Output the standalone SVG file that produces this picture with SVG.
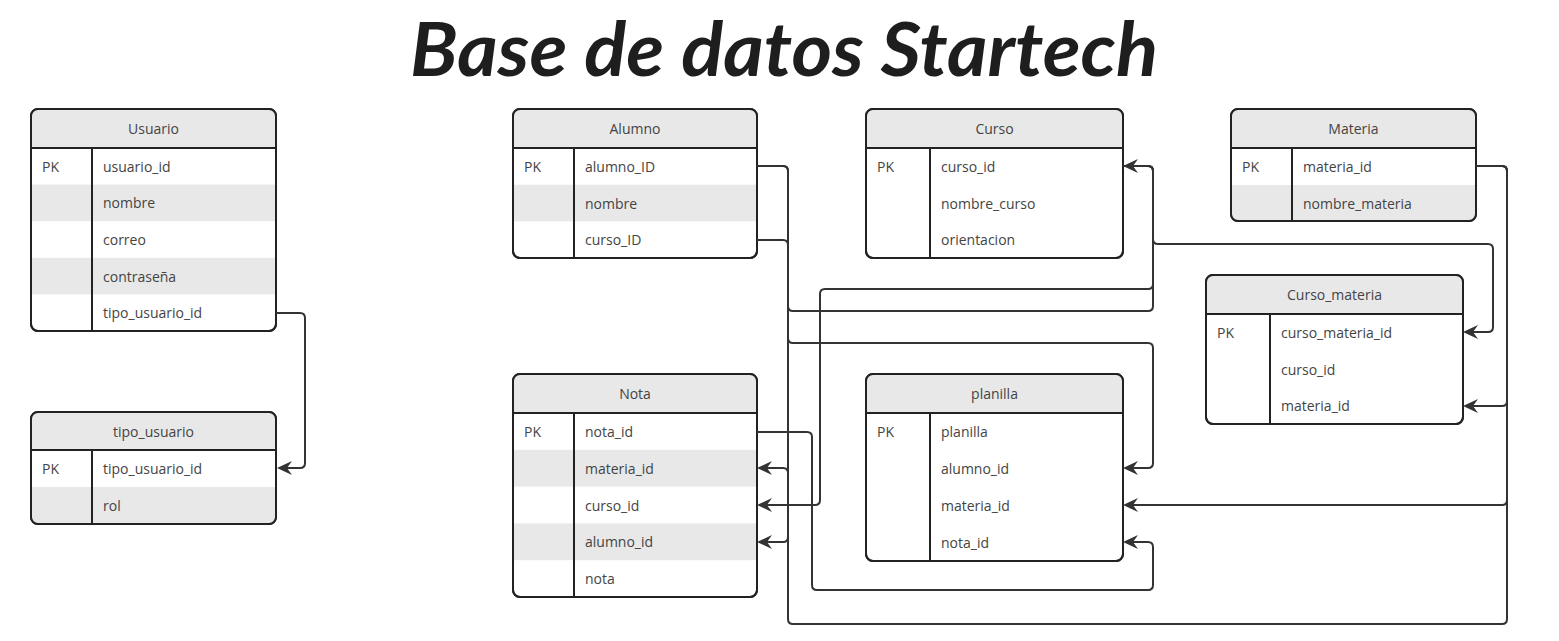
<svg xmlns="http://www.w3.org/2000/svg" width="1559" height="641" viewBox="0 0 1559 641">
<style>
.card{fill:#fff;stroke:#222;stroke-width:2}
.outline{fill:none;stroke:#222;stroke-width:2}
.sep{stroke:#222;stroke-width:2}
.div{stroke:#222;stroke-width:2}
.hdr{fill:#e8e8e8}
.stripe{fill:#e8e8e8}
.t{font-family:"Open Sans","Noto Sans",sans-serif;font-size:14px;fill:#444;dominant-baseline:central}
.h{text-anchor:middle}
.conn path{fill:none;stroke:#333;stroke-width:2}
.title{font-family:"Lato","Noto Sans",sans-serif;font-style:italic;font-weight:700;font-size:74px;fill:#1e1e1e}
</style>
<defs>
<marker id="arr" viewBox="0 0 15 15" refX="12" refY="7.5" markerWidth="15" markerHeight="15" markerUnits="userSpaceOnUse" orient="auto">
<path d="M15,7.5 L0,0.5 L5,7.5 L0,14.5 Z" fill="#333"/>
</marker>
<clipPath id="cU"><rect x="31" y="109" width="245" height="222" rx="7"/></clipPath>
<clipPath id="cT"><rect x="31" y="412" width="245" height="112" rx="7"/></clipPath>
<clipPath id="cA"><rect x="513" y="109" width="244" height="149" rx="7"/></clipPath>
<clipPath id="cC"><rect x="866" y="109" width="257" height="149" rx="7"/></clipPath>
<clipPath id="cM"><rect x="1231" y="109" width="245" height="112" rx="7"/></clipPath>
<clipPath id="cCM"><rect x="1206" y="275" width="257" height="149" rx="7"/></clipPath>
<clipPath id="cN"><rect x="513" y="374" width="244" height="223" rx="7"/></clipPath>
<clipPath id="cP"><rect x="866" y="374" width="257" height="187" rx="7"/></clipPath>
</defs>
<rect width="1559" height="641" fill="#fff"/>
<text class="title" x="784" y="76" text-anchor="middle" textLength="748" lengthAdjust="spacingAndGlyphs">Base de datos Startech</text>

<g id="usuario">
<rect class="card" x="31" y="109" width="245" height="222" rx="7"/>
<g clip-path="url(#cU)">
<rect class="hdr" x="31" y="109" width="245" height="39"/>
<rect class="stripe" x="31" y="184.6" width="245" height="36.6"/>
<rect class="stripe" x="31" y="257.8" width="245" height="36.6"/>
</g>
<rect class="outline" x="31" y="109" width="245" height="222" rx="7"/>
<line class="sep" x1="31" y1="148" x2="276" y2="148"/>
<line class="div" x1="92" y1="148" x2="92" y2="331"/>
<text class="t h" x="153.5" y="128.5">Usuario</text>
<text class="t" x="42" y="166.3">PK</text>
<text class="t" x="103" y="166.3">usuario_id</text>
<text class="t" x="103" y="202.9">nombre</text>
<text class="t" x="103" y="239.5">correo</text>
<text class="t" x="103" y="276.1">contraseña</text>
<text class="t" x="103" y="312.7">tipo_usuario_id</text>
</g>

<g id="tipo_usuario">
<rect class="card" x="31" y="412" width="245" height="112" rx="7"/>
<g clip-path="url(#cT)">
<rect class="hdr" x="31" y="412" width="245" height="38"/>
<rect class="stripe" x="31" y="487" width="245" height="37"/>
</g>
<rect class="outline" x="31" y="412" width="245" height="112" rx="7"/>
<line class="sep" x1="31" y1="450" x2="276" y2="450"/>
<line class="div" x1="92" y1="450" x2="92" y2="524"/>
<text class="t h" x="153.5" y="431">tipo_usuario</text>
<text class="t" x="42" y="468.5">PK</text>
<text class="t" x="103" y="468.5">tipo_usuario_id</text>
<text class="t" x="103" y="505.5">rol</text>
</g>

<g id="alumno">
<rect class="card" x="513" y="109" width="244" height="149" rx="7"/>
<g clip-path="url(#cA)">
<rect class="hdr" x="513" y="109" width="244" height="39"/>
<rect class="stripe" x="513" y="184.7" width="244" height="36.6"/>
</g>
<rect class="outline" x="513" y="109" width="244" height="149" rx="7"/>
<line class="sep" x1="513" y1="148" x2="757" y2="148"/>
<line class="div" x1="574" y1="148" x2="574" y2="258"/>
<text class="t h" x="635" y="128.5">Alumno</text>
<text class="t" x="524" y="166.3">PK</text>
<text class="t" x="585" y="166.3">alumno_ID</text>
<text class="t" x="585" y="203">nombre</text>
<text class="t" x="585" y="239.6">curso_ID</text>
</g>

<g id="curso">
<rect class="card" x="866" y="109" width="257" height="149" rx="7"/>
<g clip-path="url(#cC)">
<rect class="hdr" x="866" y="109" width="257" height="39"/>
</g>
<rect class="outline" x="866" y="109" width="257" height="149" rx="7"/>
<line class="sep" x1="866" y1="148" x2="1123" y2="148"/>
<line class="div" x1="930" y1="148" x2="930" y2="258"/>
<text class="t h" x="994.5" y="128.5">Curso</text>
<text class="t" x="877" y="166.3">PK</text>
<text class="t" x="941" y="166.3">curso_id</text>
<text class="t" x="941" y="203">nombre_curso</text>
<text class="t" x="941" y="239.6">orientacion</text>
</g>

<g id="materia">
<rect class="card" x="1231" y="109" width="245" height="112" rx="7"/>
<g clip-path="url(#cM)">
<rect class="hdr" x="1231" y="109" width="245" height="39"/>
<rect class="stripe" x="1231" y="185" width="245" height="36"/>
</g>
<rect class="outline" x="1231" y="109" width="245" height="112" rx="7"/>
<line class="sep" x1="1231" y1="148" x2="1476" y2="148"/>
<line class="div" x1="1292" y1="148" x2="1292" y2="221"/>
<text class="t h" x="1353.5" y="128.5">Materia</text>
<text class="t" x="1242" y="166.5">PK</text>
<text class="t" x="1303" y="166.5">materia_id</text>
<text class="t" x="1303" y="203">nombre_materia</text>
</g>

<g id="curso_materia">
<rect class="card" x="1206" y="275" width="257" height="149" rx="7"/>
<g clip-path="url(#cCM)">
<rect class="hdr" x="1206" y="275" width="257" height="39"/>
</g>
<rect class="outline" x="1206" y="275" width="257" height="149" rx="7"/>
<line class="sep" x1="1206" y1="314" x2="1463" y2="314"/>
<line class="div" x1="1270" y1="314" x2="1270" y2="424"/>
<text class="t h" x="1334.5" y="294.5">Curso_materia</text>
<text class="t" x="1217" y="332.3">PK</text>
<text class="t" x="1281" y="332.3">curso_materia_id</text>
<text class="t" x="1281" y="369">curso_id</text>
<text class="t" x="1281" y="405.6">materia_id</text>
</g>

<g id="nota">
<rect class="card" x="513" y="374" width="244" height="223" rx="7"/>
<g clip-path="url(#cN)">
<rect class="hdr" x="513" y="374" width="244" height="39"/>
<rect class="stripe" x="513" y="449.8" width="244" height="36.8"/>
<rect class="stripe" x="513" y="523.4" width="244" height="36.8"/>
</g>
<rect class="outline" x="513" y="374" width="244" height="223" rx="7"/>
<line class="sep" x1="513" y1="413" x2="757" y2="413"/>
<line class="div" x1="574" y1="413" x2="574" y2="597"/>
<text class="t h" x="635" y="393.5">Nota</text>
<text class="t" x="524" y="431.4">PK</text>
<text class="t" x="585" y="431.4">nota_id</text>
<text class="t" x="585" y="468.2">materia_id</text>
<text class="t" x="585" y="505">curso_id</text>
<text class="t" x="585" y="541.8">alumno_id</text>
<text class="t" x="585" y="578.6">nota</text>
</g>

<g id="planilla">
<rect class="card" x="866" y="374" width="257" height="187" rx="7"/>
<g clip-path="url(#cP)">
<rect class="hdr" x="866" y="374" width="257" height="39"/>
</g>
<rect class="outline" x="866" y="374" width="257" height="187" rx="7"/>
<line class="sep" x1="866" y1="413" x2="1123" y2="413"/>
<line class="div" x1="930" y1="413" x2="930" y2="561"/>
<text class="t h" x="994.5" y="393.5">planilla</text>
<text class="t" x="877" y="431.5">PK</text>
<text class="t" x="941" y="431.5">planilla</text>
<text class="t" x="941" y="468.5">alumno_id</text>
<text class="t" x="941" y="505.5">materia_id</text>
<text class="t" x="941" y="542.5">nota_id</text>
</g>

<g id="connectors" class="conn">
<path d="M276,313 H300 Q305,313 305,318 V463 Q305,468 300,468 H280" marker-end="url(#arr)"/>
<path d="M757,240 H783 Q788,240 788,245 V306 Q788,311 793,311 H1148 Q1153,311 1153,306 V171 Q1153,166 1148,166 H1126" marker-end="url(#arr)"/>
<path d="M757,166 H783 Q788,166 788,171 V338 Q788,343 793,343 H1148 Q1153,343 1153,348 V463 Q1153,468 1148,468 H1126" marker-end="url(#arr)"/>
<path d="M757,166 H783 Q788,166 788,171 V537 Q788,542 783,542 H760" marker-end="url(#arr)"/>
<path d="M1476,166 H1502 Q1507,166 1507,171 V619 Q1507,624 1502,624 H793 Q788,624 788,619 V473 Q788,468 783,468 H760" marker-end="url(#arr)"/>
<path d="M1476,166 H1502 Q1507,166 1507,171 V401 Q1507,406 1502,406 H1466" marker-end="url(#arr)"/>
<path d="M1476,166 H1502 Q1507,166 1507,171 V500 Q1507,505 1502,505 H1126" marker-end="url(#arr)"/>
<path d="M1123,166 H1148 Q1153,166 1153,171 V239 Q1153,244 1158,244 H1488 Q1493,244 1493,249 V327 Q1493,332 1488,332 H1466" marker-end="url(#arr)"/>
<path d="M1123,166 H1148 Q1153,166 1153,171 V284 Q1153,289 1148,289 H825 Q820,289 820,294 V500 Q820,505 815,505 H760" marker-end="url(#arr)"/>
<path d="M757,432 H807 Q812,432 812,437 V585 Q812,590 817,590 H1148 Q1153,590 1153,585 V547 Q1153,542 1148,542 H1126" marker-end="url(#arr)"/>
</g>
</svg>
